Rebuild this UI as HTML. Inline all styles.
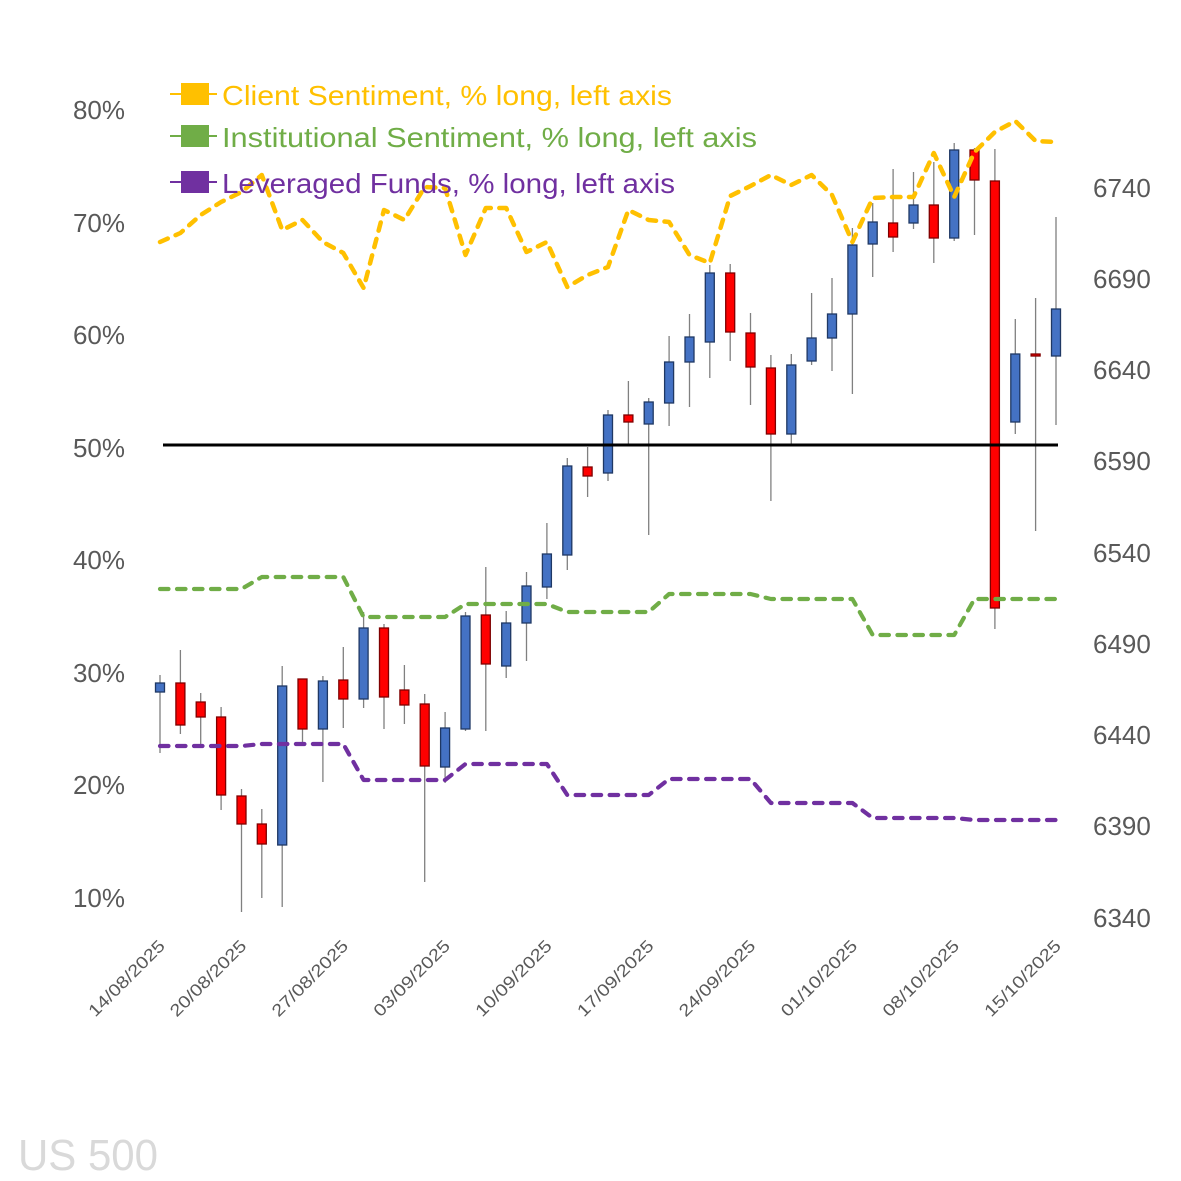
<!DOCTYPE html>
<html>
<head>
<meta charset="utf-8">
<style>
html,body{margin:0;padding:0;background:#fff;}
svg{display:block;}
text{font-family:"Liberation Sans",sans-serif;}
</style>
</head>
<body>
<svg width="1181" height="1181" viewBox="0 0 1181 1181" xmlns="http://www.w3.org/2000/svg">
<rect width="1181" height="1181" fill="#fff"/>

<!-- Left axis labels -->
<g fill="#595959" font-size="26" text-anchor="end">
<text x="125" y="119">80%</text>
<text x="125" y="232">70%</text>
<text x="125" y="344">60%</text>
<text x="125" y="457">50%</text>
<text x="125" y="569">40%</text>
<text x="125" y="682">30%</text>
<text x="125" y="794">20%</text>
<text x="125" y="907">10%</text>
</g>

<!-- Right axis labels -->
<g fill="#595959" font-size="26">
<text x="1093" y="197">6740</text>
<text x="1093" y="288">6690</text>
<text x="1093" y="379">6640</text>
<text x="1093" y="470">6590</text>
<text x="1093" y="562">6540</text>
<text x="1093" y="653">6490</text>
<text x="1093" y="744">6440</text>
<text x="1093" y="835">6390</text>
<text x="1093" y="927">6340</text>
</g>

<!-- Date labels -->
<g fill="#595959" font-size="17" text-anchor="end">
<text transform="translate(166,947) rotate(-45)" textLength="100" lengthAdjust="spacingAndGlyphs">14/08/2025</text>
<text transform="translate(247.5,947) rotate(-45)" textLength="100" lengthAdjust="spacingAndGlyphs">20/08/2025</text>
<text transform="translate(349.3,947) rotate(-45)" textLength="100" lengthAdjust="spacingAndGlyphs">27/08/2025</text>
<text transform="translate(451.1,947) rotate(-45)" textLength="100" lengthAdjust="spacingAndGlyphs">03/09/2025</text>
<text transform="translate(552.9,947) rotate(-45)" textLength="100" lengthAdjust="spacingAndGlyphs">10/09/2025</text>
<text transform="translate(654.7,947) rotate(-45)" textLength="100" lengthAdjust="spacingAndGlyphs">17/09/2025</text>
<text transform="translate(756.5,947) rotate(-45)" textLength="100" lengthAdjust="spacingAndGlyphs">24/09/2025</text>
<text transform="translate(858.4,947) rotate(-45)" textLength="100" lengthAdjust="spacingAndGlyphs">01/10/2025</text>
<text transform="translate(960.2,947) rotate(-45)" textLength="100" lengthAdjust="spacingAndGlyphs">08/10/2025</text>
<text transform="translate(1062,947) rotate(-45)" textLength="100" lengthAdjust="spacingAndGlyphs">15/10/2025</text>
</g>

<!-- Wicks -->
<g stroke="#808080" stroke-width="1.3">
<line x1="160" y1="675" x2="160" y2="753"/>
<line x1="180.4" y1="650" x2="180.4" y2="734"/>
<line x1="200.7" y1="693" x2="200.7" y2="744"/>
<line x1="221.1" y1="707" x2="221.1" y2="810"/>
<line x1="241.5" y1="789" x2="241.5" y2="912"/>
<line x1="261.8" y1="809" x2="261.8" y2="898"/>
<line x1="282.2" y1="666" x2="282.2" y2="907"/>
<line x1="302.5" y1="679" x2="302.5" y2="742"/>
<line x1="322.9" y1="676" x2="322.9" y2="782"/>
<line x1="343.3" y1="647" x2="343.3" y2="728"/>
<line x1="363.6" y1="612" x2="363.6" y2="708"/>
<line x1="384" y1="624" x2="384" y2="729"/>
<line x1="404.4" y1="665" x2="404.4" y2="724"/>
<line x1="424.7" y1="694" x2="424.7" y2="882"/>
<line x1="445.1" y1="712" x2="445.1" y2="783"/>
<line x1="465.5" y1="612" x2="465.5" y2="731"/>
<line x1="485.8" y1="567" x2="485.8" y2="731"/>
<line x1="506.2" y1="611" x2="506.2" y2="678"/>
<line x1="526.5" y1="572" x2="526.5" y2="661"/>
<line x1="546.9" y1="523" x2="546.9" y2="599"/>
<line x1="567.3" y1="458" x2="567.3" y2="570"/>
<line x1="587.6" y1="447" x2="587.6" y2="497"/>
<line x1="608" y1="410" x2="608" y2="481"/>
<line x1="628.4" y1="381" x2="628.4" y2="444"/>
<line x1="648.7" y1="398" x2="648.7" y2="535"/>
<line x1="669.1" y1="336" x2="669.1" y2="426"/>
<line x1="689.5" y1="314" x2="689.5" y2="407"/>
<line x1="709.8" y1="265" x2="709.8" y2="378"/>
<line x1="730.2" y1="264" x2="730.2" y2="361"/>
<line x1="750.5" y1="313" x2="750.5" y2="405"/>
<line x1="770.9" y1="355" x2="770.9" y2="501"/>
<line x1="791.3" y1="354" x2="791.3" y2="444"/>
<line x1="811.6" y1="293" x2="811.6" y2="365"/>
<line x1="832" y1="278" x2="832" y2="371"/>
<line x1="852.4" y1="228" x2="852.4" y2="394"/>
<line x1="872.7" y1="203" x2="872.7" y2="277"/>
<line x1="893.1" y1="169" x2="893.1" y2="252"/>
<line x1="913.5" y1="172" x2="913.5" y2="229"/>
<line x1="933.8" y1="162" x2="933.8" y2="263"/>
<line x1="954.2" y1="143" x2="954.2" y2="241"/>
<line x1="974.5" y1="148" x2="974.5" y2="235"/>
<line x1="994.9" y1="149" x2="994.9" y2="629"/>
<line x1="1015.3" y1="319" x2="1015.3" y2="434"/>
<line x1="1035.6" y1="298" x2="1035.6" y2="531"/>
<line x1="1056" y1="217" x2="1056" y2="425"/>
</g>

<!-- Blue bodies -->
<g fill="#4472C4" stroke="#1F3864" stroke-width="1.3">
<rect x="155.5" y="683" width="9" height="9"/>
<rect x="277.7" y="686" width="9" height="159"/>
<rect x="318.4" y="681" width="9" height="48"/>
<rect x="359.1" y="628" width="9" height="71"/>
<rect x="440.6" y="728" width="9" height="39"/>
<rect x="461" y="616" width="9" height="113"/>
<rect x="501.7" y="623" width="9" height="43"/>
<rect x="522" y="586" width="9" height="37"/>
<rect x="542.4" y="554" width="9" height="33"/>
<rect x="562.8" y="466" width="9" height="89"/>
<rect x="603.5" y="415" width="9" height="58"/>
<rect x="644.2" y="402" width="9" height="22"/>
<rect x="664.6" y="362" width="9" height="41"/>
<rect x="685" y="337" width="9" height="25"/>
<rect x="705.3" y="273" width="9" height="69"/>
<rect x="786.8" y="365" width="9" height="69"/>
<rect x="807.1" y="338" width="9" height="23"/>
<rect x="827.5" y="314" width="9" height="24"/>
<rect x="847.9" y="245" width="9" height="69"/>
<rect x="868.2" y="222" width="9" height="22"/>
<rect x="909" y="205" width="9" height="18"/>
<rect x="949.7" y="150" width="9" height="88"/>
<rect x="1010.8" y="354" width="9" height="68"/>
<rect x="1051.5" y="309" width="9" height="47"/>
</g>

<!-- Red bodies -->
<g fill="#FF0000" stroke="#7F0000" stroke-width="1.3">
<rect x="175.9" y="683" width="9" height="42"/>
<rect x="196.2" y="702" width="9" height="15"/>
<rect x="216.6" y="717" width="9" height="78"/>
<rect x="237" y="796" width="9" height="28"/>
<rect x="257.3" y="824" width="9" height="20"/>
<rect x="298" y="679" width="9" height="50"/>
<rect x="338.8" y="680" width="9" height="19"/>
<rect x="379.5" y="628" width="9" height="69"/>
<rect x="399.9" y="690" width="9" height="15"/>
<rect x="420.2" y="704" width="9" height="62"/>
<rect x="481.3" y="615" width="9" height="49"/>
<rect x="583.1" y="467" width="9" height="9"/>
<rect x="623.9" y="415" width="9" height="7"/>
<rect x="725.7" y="273" width="9" height="59"/>
<rect x="746" y="333" width="9" height="34"/>
<rect x="766.4" y="368" width="9" height="66"/>
<rect x="888.6" y="223" width="9" height="14"/>
<rect x="929.3" y="205" width="9" height="33"/>
<rect x="970" y="150" width="9" height="30"/>
<rect x="990.4" y="181" width="9" height="427"/>
<rect x="1031.1" y="354" width="9" height="2"/>
</g>

<!-- 50% line -->
<line x1="163" y1="445" x2="1058" y2="445" stroke="#000" stroke-width="3"/>

<!-- Sentiment lines -->
<g fill="none" stroke-width="4.2" stroke-linecap="round" stroke-linejoin="round" stroke-dasharray="8.5 8.5">
<polyline stroke="#70AD47" points="160,589 241.5,589 261.8,577 343.3,577 363.6,617 445.1,617 465.5,604 546.9,604 567.3,612 648.7,612 669.1,594 750.5,594 770.9,599 852.4,599 872.7,635 954.2,635 974.5,599 1056,599"/>
<polyline stroke="#7030A0" points="160,746 241.5,746 261.8,744 343.3,744 363.6,780 445.1,780 465.5,764 546.9,764 567.3,795 648.7,795 669.1,779 750.5,779 770.9,803 852.4,803 872.7,818 954.2,818 974.5,820 1056,820"/>
<polyline stroke="#FFC000" stroke-width="4.5" points="160,242 180.4,233 200.7,215 221.1,202 241.5,192 261.8,175 282.2,230 302.5,220 322.9,242 343.3,253 363.6,288 384,210 404.4,220 424.7,187 445.1,188 465.5,255 485.8,208 506.2,208 526.5,252 546.9,242 567.3,287 587.6,275 608,267 628.4,210 648.7,220 669.1,222 689.5,255 709.8,263 730.2,196 750.5,186 770.9,175 791.3,185 811.6,175 832,195 852.4,242 872.7,198 893.1,197 913.5,197 933.8,153 954.2,197 974.5,152 994.9,132 1015.3,121 1035.6,141 1056,142"/>
</g>

<!-- Legend -->
<g>
<line x1="170" y1="94" x2="217" y2="94" stroke="#FFC000" stroke-width="2"/>
<rect x="181" y="83" width="28" height="22" fill="#FFC000"/>
<text x="222" y="105" font-size="28" fill="#FFC000" textLength="450" lengthAdjust="spacingAndGlyphs">Client Sentiment, % long, left axis</text>

<line x1="170" y1="136" x2="217" y2="136" stroke="#70AD47" stroke-width="2"/>
<rect x="181" y="125" width="28" height="22" fill="#70AD47"/>
<text x="222" y="147" font-size="28" fill="#70AD47" textLength="535" lengthAdjust="spacingAndGlyphs">Institutional Sentiment, % long, left axis</text>

<line x1="170" y1="182" x2="217" y2="182" stroke="#7030A0" stroke-width="2"/>
<rect x="181" y="171" width="28" height="22" fill="#7030A0"/>
<text x="222" y="193" font-size="28" fill="#7030A0" textLength="453" lengthAdjust="spacingAndGlyphs">Leveraged Funds, % long, left axis</text>
</g>

<!-- Watermark -->
<text x="18" y="1170" font-size="44" fill="#D9D9D9" textLength="140" lengthAdjust="spacingAndGlyphs">US 500</text>
</svg>
</body>
</html>
